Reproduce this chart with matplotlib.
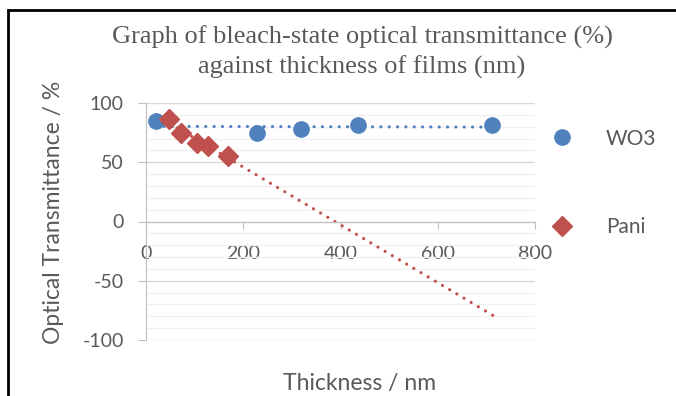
import numpy as np
import matplotlib.pyplot as plt
from matplotlib.patches import Rectangle
from matplotlib.ticker import MultipleLocator

# thickness (nm) and bleach-state transmittance (%)
wo3_x = [20, 229, 318, 435, 711]
wo3_y = [84.7, 74.8, 77.7, 81.4, 81.4]
pani_x = [47, 73, 105, 127, 169]
pani_y = [86.4, 74.8, 66.0, 63.8, 55.3]

# trendline ranges (linear fits, Pani one is forecast forward)
wo3_trend_x = [20, 711]
pani_trend_x = [20, 713]

blue = '#4F81BD'
red = '#C0504D'
grey = '#595959'

plt.rcParams['font.family'] = ['Lato', 'DejaVu Sans']
plt.rcParams['axes.unicode_minus'] = False

fig = plt.figure(figsize=(6.76, 3.96), dpi=100)
ax = fig.add_axes([146 / 676, 1 - 340 / 396, (535 - 146) / 676, (340 - 103) / 396])

# linear trendlines
dots = (0, (0.01, 2.6))
p = np.polyfit(wo3_x, wo3_y, 1)
tx = np.array(wo3_trend_x)
ax.plot(tx, np.polyval(p, tx), ls=dots, color=blue, lw=2.3, dash_capstyle='round', zorder=2)
p = np.polyfit(pani_x, pani_y, 1)
tx = np.array(pani_trend_x)
ax.plot(tx, np.polyval(p, tx), ls=dots, color=red, lw=2.3, dash_capstyle='round', zorder=2)

ax.plot(wo3_x, wo3_y, 'o', color=blue, ms=11, label='WO3', zorder=3)
ax.plot(pani_x, pani_y, 'D', color=red, ms=10, label='Pani', zorder=4)

ax.set_xlim(0, 800)
ax.set_ylim(-100, 100)
ax.xaxis.set_major_locator(MultipleLocator(200))
ax.yaxis.set_major_locator(MultipleLocator(50))
ax.yaxis.set_minor_locator(MultipleLocator(10))
ax.grid(which='major', axis='y', color='#D9D9D9', lw=1)
ax.grid(which='minor', axis='y', color='#F0F0F0', lw=1)
ax.set_axisbelow(True)

for s in ['top', 'right']:
    ax.spines[s].set_visible(False)
ax.spines['bottom'].set_position(('data', 0))
ax.spines['bottom'].set_color('#BFBFBF')
ax.spines['left'].set_color('#BFBFBF')
ax.tick_params(axis='y', which='major', length=6, color='#BFBFBF', labelsize=14, labelcolor=grey, pad=10)
ax.tick_params(axis='y', which='minor', length=0)
ax.tick_params(axis='x', length=5, color='#BFBFBF', labelsize=14, labelcolor=grey, pad=12)

ax.set_xlabel('Thickness / nm', fontsize=16.5, color=grey, labelpad=0)
ax.xaxis.set_label_coords(0.55, -0.14)
ax.set_ylabel('Optical Transmittance / %', fontsize=16.5, color=grey)
ax.yaxis.set_label_coords(-0.212, 0.54)

fig.text(362 / 676, 1 - 52 / 396, 'Graph of bleach-state optical transmittance (%)\nagainst thickness of films (nm)',
         ha='center', va='center', fontsize=19, color=grey, family='Liberation Serif', linespacing=1.38)

leg = fig.legend(loc='center left', bbox_to_anchor=(531 / 676, 1 - 183 / 396), frameon=False,
                 fontsize=15, labelspacing=3.3, handletextpad=1.5, handlelength=1.2)
for t in leg.get_texts():
    t.set_color(grey)

fig.patches.append(Rectangle((8 / 676, -0.1), 1, 1 - 10 / 396 + 0.1, transform=fig.transFigure,
                             fill=False, edgecolor='black', lw=2))

fig.savefig('out.png', dpi=100)
